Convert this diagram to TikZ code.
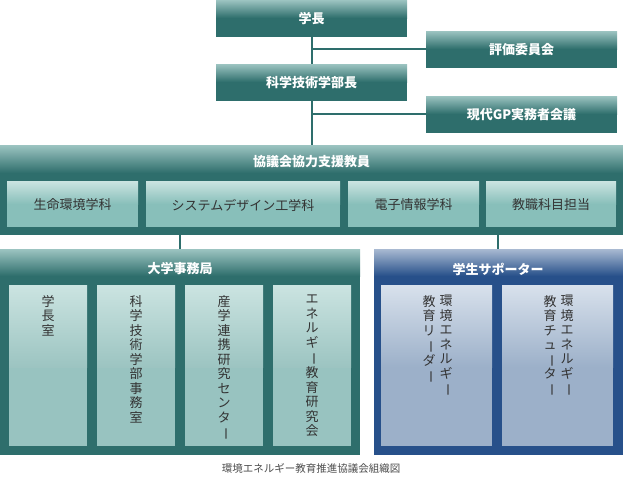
\documentclass[tikz,border=0pt]{standalone}
\usepackage{fontspec}
\setmainfont{Noto Sans CJK JP}
\usetikzlibrary{positioning}
\definecolor{teal1}{HTML}{2E6E6C}
\definecolor{teal2}{HTML}{9CC4C1}
\definecolor{tealA}{HTML}{CBE4E1}
\definecolor{tealB}{HTML}{88BFBA}
\definecolor{blue1}{HTML}{27508A}
\definecolor{blue2}{HTML}{A9BAD2}
\definecolor{blueA}{HTML}{D8E1EC}
\definecolor{blueB}{HTML}{9CB0C9}
\newcommand{\vbar}{\rotatebox[origin=c]{-90}{ー}}
\tikzset{
  head/.style={text=white,font=\bfseries\fontsize{13}{15}\selectfont},
  sub/.style={text=black!80,font=\fontsize{13}{15}\selectfont},
  vsub/.style={text=black!80,font=\fontsize{13}{14.5}\selectfont,align=center,anchor=north,inner sep=0pt},
  link/.style={teal1,line width=1.6pt}
}
\begin{document}
\begin{tikzpicture}[x=1pt,y=-1pt]
  \useasboundingbox (0,0) rectangle (623,480);
  % connectors behind
  \coordinate (c1) at (312,49);
  \coordinate (c2) at (312,114);
  \draw[link] (312,36) -- (312,145);
  \draw[link] (c1) -- (426,49);
  \draw[link] (c2) -- (426,114);
  \draw[link] (180,235) -- (180,249);
  \draw[link] (498,235) -- (498,249);
  % top boxes
  \foreach \nm/\xa/\ya/\txt in {gakucho/216/0/学長,hyoka/426/31/評価委員会,bucho/216/64/科学技術学部長,gp/426/96/現代GP実務者会議}{
    \fill[teal1] (\xa,\ya) rectangle ++(191,37);
    \shade[top color=teal2,bottom color=teal1] (\xa,\ya) rectangle ++(191,18);
    \node[head] (\nm) at (\xa+95.5,\ya+19) {\txt};
  }
  % council
  \fill[teal1] (0,145) rectangle (623,235);
  \shade[top color=teal2,bottom color=teal1] (0,145) rectangle (623,173);
  \node[head] (kyogi) at (311.5,162) {協議会協力支援教員};
  \foreach \nm/\xa/\xb/\txt in {seimei/7/138/生命環境学科,system/146/340/システムデザイン工学科,denshi/348/479/電子情報学科,kyoshoku/486/616/教職科目担当}{
    \fill[tealB] (\xa,181) rectangle (\xb,227);
    \shade[top color=tealA,bottom color=tealB] (\xa,181) rectangle (\xb,204);
    \node[sub] (\nm) at ({(\xa+\xb)/2},205) {\txt};
  }
  % office
  \fill[teal1] (0,249) rectangle (360,455);
  \shade[top color=teal2,bottom color=teal1] (0,249) rectangle (360,276);
  \node[head] (jimu) at (180,269) {大学事務局};
  \foreach \nm/\xa/\txt in {
    gakuchoshitsu/9/{学\\長\\室},
    jimushitsu/97/{科\\学\\技\\術\\学\\部\\事\\務\\室},
    sangaku/185/{産\\学\\連\\携\\研\\究\\セ\\ン\\タ\\\vbar},
    eneken/273/{エ\\ネ\\ル\\ギ\\\vbar\\教\\育\\研\\究\\会}}{
    \fill[teal2!80!tealB] (\xa,285) rectangle ++(78,161);
    \shade[top color=tealA,bottom color=teal2] (\xa,285) rectangle ++(78,82);
    \node[vsub] (\nm) at (\xa+39,295) {\txt};
  }
  % supporters
  \fill[blue1] (374,249) rectangle (623,455);
  \shade[top color=blue2,bottom color=blue1] (374,249) rectangle (623,276);
  \node[head] (supporter) at (498,269) {学生サポーター};
  \foreach \nm/\xa/\txt in {leader/381/{教\\育\\リ\\\vbar\\ダ\\\vbar},tutor/502/{教\\育\\チ\\ュ\\\vbar\\タ\\\vbar}}{
    \fill[blueB] (\xa,285) rectangle ++(111,161);
    \shade[top color=blueA,bottom color=blueB] (\xa,285) rectangle ++(111,82);
    \node[vsub] (\nm) at (\xa+48,295) {\txt};
    \node[vsub] (\nm-r) at (\xa+65,295) {環\\境\\エ\\ネ\\ル\\ギ\\\vbar};
  }
  \node[text=black!70,font=\fontsize{10.5}{12}\selectfont] (caption) at (311,468) {環境エネルギー教育推進協議会組織図};
\end{tikzpicture}
\end{document}
